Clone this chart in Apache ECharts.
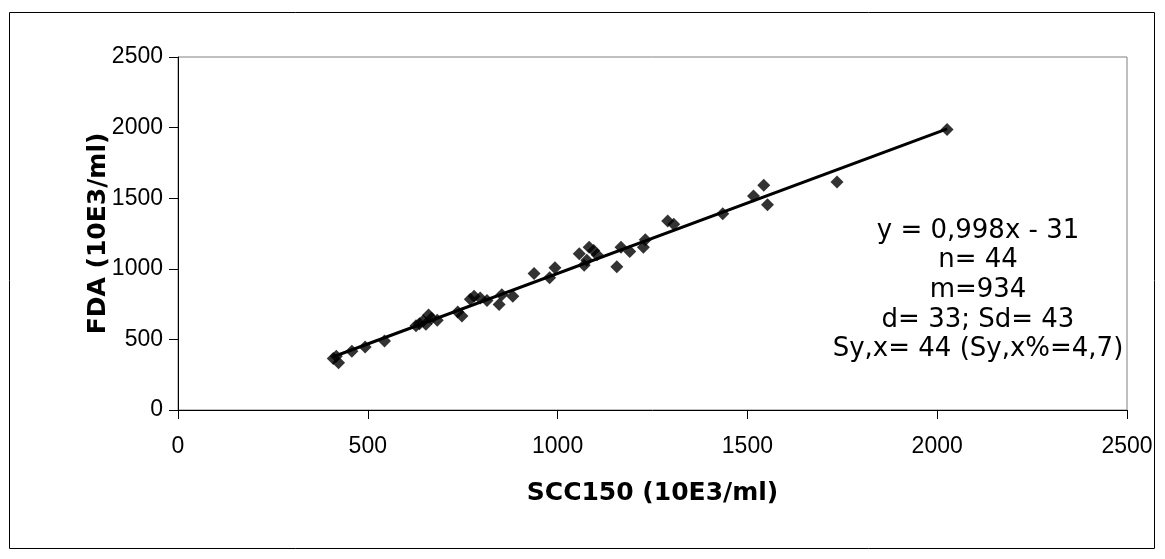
<!DOCTYPE html>
<html>
<head>
<meta charset="utf-8">
<script src="https://cdn.jsdelivr.net/npm/echarts@6/dist/echarts.min.js"></script>
<style>
html,body{margin:0;padding:0;background:#fff;}
#c{width:1165px;height:559px;}
</style>
</head>
<body>
<div id="c"></div>
<script>
// SCC150 (x) and FDA (y), 10E3/ml
const sccValues = [409, 423, 417, 458, 493, 544, 627, 636, 646, 653, 660, 668, 683, 737, 748, 770, 780, 796, 814, 846, 853, 882, 938, 979, 993, 1057, 1070, 1077, 1083, 1095, 1104, 1156, 1167, 1190, 1226, 1231, 1290, 1306, 1435, 1516, 1543, 1553, 1736, 2026];
const fdaValues = [365, 335, 380, 416, 446, 488, 597, 610, 632, 608, 673, 650, 636, 694, 666, 785, 805, 794, 775, 747, 817, 805, 967, 937, 1007, 1106, 1025, 1060, 1152, 1130, 1099, 1014, 1152, 1122, 1152, 1206, 1338, 1315, 1389, 1516, 1592, 1453, 1615, 1986];
const xTicks = [0, 500, 1000, 1500, 2000, 2500];
const yTicks = [0, 500, 1000, 1500, 2000, 2500];
const slope = 0.998, intercept = -31;
const annotationLines = ["y = 0,998x - 31", "n= 44", "m=934", "d= 33; Sd= 43", "Sy,x= 44 (Sy,x%=4,7)"];

const points = sccValues.map((x, i) => [x, fdaValues[i]]);
const xMin = Math.min(...sccValues), xMax = Math.max(...sccValues);
const trend = [[xMin, slope * xMin + intercept], [xMax, slope * xMax + intercept]];

const tickFont = "'Liberation Sans', Arial, sans-serif";
const wideFont = "'DejaVu Sans', sans-serif";
const chart = echarts.init(document.getElementById('c'));
chart.setOption({
  backgroundColor: '#ffffff',
  animation: false,
  grid: { left: 178, top: 57, right: 38, bottom: 149, show: true, borderColor: '#808080', borderWidth: 1, backgroundColor: '#ffffff' },
  xAxis: {
    type: 'value', min: xTicks[0], max: xTicks[xTicks.length - 1], interval: 500,
    name: 'SCC150 (10E3/ml)', nameLocation: 'middle', nameGap: 71, nameMoveOverlap: false,
    nameTextStyle: { fontFamily: wideFont, fontSize: 25, fontWeight: 'bold', color: '#000' },
    axisLine: { show: true, onZero: false, lineStyle: { color: '#000', width: 1 } },
    axisTick: { show: true, length: 9, lineStyle: { color: '#000' } },
    axisLabel: { fontFamily: tickFont, fontSize: 23, color: '#000', margin: 25, formatter: v => String(v) },
    splitLine: { show: false }
  },
  yAxis: {
    type: 'value', min: yTicks[0], max: yTicks[yTicks.length - 1], interval: 500,
    name: 'FDA (10E3/ml)', nameLocation: 'middle', nameGap: 67, nameRotate: 90, nameMoveOverlap: false,
    nameTextStyle: { fontFamily: wideFont, fontSize: 25, fontWeight: 'bold', color: '#000' },
    axisLine: { show: true, onZero: false, lineStyle: { color: '#000', width: 1 } },
    axisTick: { show: true, length: 9, lineStyle: { color: '#000' } },
    axisLabel: { fontFamily: tickFont, fontSize: 23, color: '#000', margin: 15, formatter: v => String(v) },
    splitLine: { show: false }
  },
  graphic: [
    { type: 'rect', shape: { x: 9.5, y: 12.5, width: 1145, height: 536 }, style: { fill: 'none', stroke: '#000', lineWidth: 1 }, silent: true, z: -1 },
    { type: 'text', x: 978, y: 216, style: { text: annotationLines.join('\n'), align: 'center', verticalAlign: 'top', font: "26px 'DejaVu Sans', sans-serif", lineHeight: 29.7, fill: '#000' } }
  ],
  series: [
    { type: 'line', data: trend, symbol: 'none', lineStyle: { color: '#000', width: 3 }, z: 2 },
    { type: 'scatter', data: points, symbol: 'path://M0,-1L1,0L0,1L-1,0Z', symbolSize: 13, itemStyle: { color: '#000' }, z: 3 }
  ]
});
</script>
</body>
</html>
